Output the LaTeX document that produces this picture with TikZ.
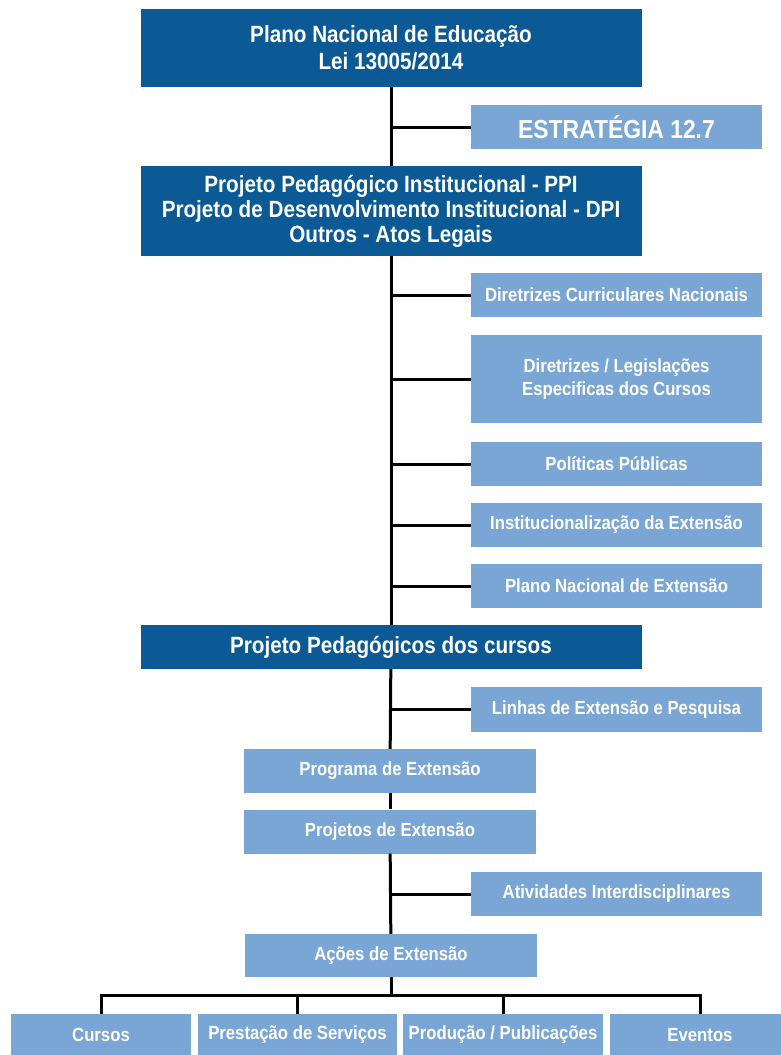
\documentclass[tikz,border=0pt]{standalone}
\usepackage{fontspec}
\setmainfont{Liberation Sans}[FakeStretch=0.88]
\usepackage{tikz}

\definecolor{darkblue}{RGB}{11,90,150}
\definecolor{lightblue}{RGB}{122,166,214}

\begin{document}
\begin{tikzpicture}
[x=1pt, y=-1pt,
 every node/.style={inner sep=0pt, align=center, text=white, font=\bfseries},
 darkbox/.style={rectangle, fill=darkblue, minimum width=501pt, font=\bfseries\fontsize{23.5}{25}\selectfont},
 lightbox/.style={rectangle, fill=lightblue, minimum width=291pt, minimum height=44pt, font=\bfseries\fontsize{19}{23}\selectfont},
 midbox/.style={lightbox, minimum width=292pt},
 leafbox/.style={lightbox, minimum height=42pt},
 link/.style={line width=3pt, draw=black, line join=miter}]
\useasboundingbox (0,0) rectangle (781,1055);
\fill[white] (0,0) rectangle (781,1055);
\node (pne) [darkbox, minimum height=78pt, font=\bfseries\fontsize{23.5}{27}\selectfont] at (391, 48) {Plano Nacional de Educação\\Lei 13005/2014};
\node (estr) [lightbox, font=\bfseries\fontsize{26}{28}\selectfont] at (616.5, 127) {ESTRATÉGIA 12.7};
\node (ppi) [darkbox, minimum height=90pt] at (391, 211) {Projeto Pedagógico Institucional - PPI\\Projeto de Desenvolvimento Institucional - DPI\\Outros - Atos Legais};
\node (dcn) [lightbox] at (616.5, 295) {Diretrizes Curriculares Nacionais};
\node (dleg) [lightbox, minimum height=88pt] at (616.5, 379) {Diretrizes / Legislações\\Especificas dos Cursos};
\node (polit) [lightbox] at (616.5, 464) {Políticas Públicas};
\node (inst) [lightbox] at (616.5, 525) {Institucionalização da Extensão};
\node (pnext) [lightbox] at (616.5, 586) {Plano Nacional de Extensão};
\node (ppc) [darkbox, minimum height=44pt] at (391, 647) {Projeto Pedagógicos dos cursos};
\node (linhas) [lightbox, minimum height=45pt] at (616.5, 709.5) {Linhas de Extensão e Pesquisa};
\node (prog) [midbox] at (390, 771) {Programa de Extensão};
\node (proj) [midbox] at (390, 831.5) {Projetos de Extensão};
\node (ativ) [lightbox] at (616.5, 894) {Atividades Interdisciplinares};
\node (acoes) [midbox, minimum height=43pt] at (391, 955.5) {Ações de Extensão};
\node (cursos) [leafbox, minimum width=180pt] at (101, 1035) {Cursos};
\node (prest) [leafbox, minimum width=199pt] at (297.5, 1035) {Prestação de Serviços};
\node (prod) [leafbox, minimum width=200pt] at (503, 1035) {Produção / Publicações};
\node (event) [leafbox, minimum width=180pt] at (700, 1035) {Eventos};
\coordinate (bar) at (391, 995);
% spine
\draw [link] (pne) -- (ppi);
\draw [link] (ppi) -- (ppc);
\draw [link] (ppc) -- (prog);
\draw [link] (prog) -- (proj);
\draw [link] (proj) -- (acoes);
\draw [link] (acoes) -- (bar);
% branches
\draw [link] (estr.west) -- (estr.west -| pne.south);
\draw [link] (dcn.west) -- (dcn.west -| ppi.south);
\draw [link] (dleg.west) -- (dleg.west -| ppi.south);
\draw [link] (polit.west) -- (polit.west -| ppi.south);
\draw [link] (inst.west) -- (inst.west -| ppi.south);
\draw [link] (pnext.west) -- (pnext.west -| ppi.south);
\draw [link] (linhas.west) -- (linhas.west -| ppc.south);
\draw [link] (ativ.west) -- (ativ.west -| proj.south);
% bottom bar
\draw [link] (cursos.north) |- (bar) -| (event.north);
\draw [link] (prest.north) -- (prest.north |- bar);
\draw [link] (prod.north) -- (prod.north |- bar);
\end{tikzpicture}
\end{document}
